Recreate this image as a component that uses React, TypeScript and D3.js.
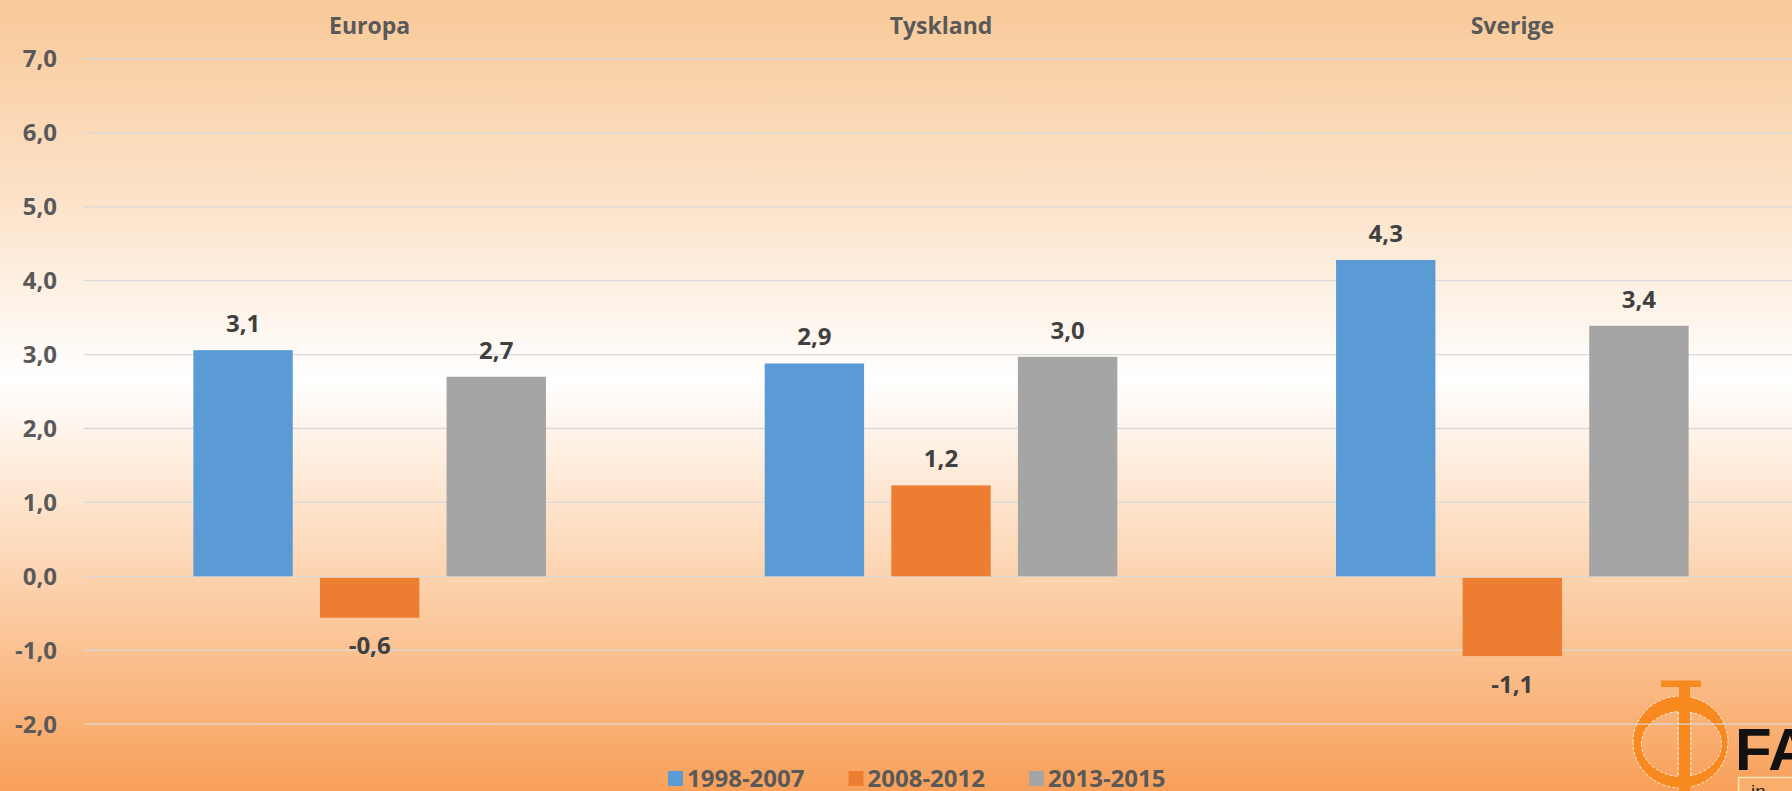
import * as d3 from 'd3';

// Growth by period, three regions
const REGIONS = ['Europa', 'Tyskland', 'Sverige'];
const PERIODS = ['1998-2007', '2008-2012', '2013-2015'];
const EUROPA = [3.06, -0.56, 2.7];
const TYSKLAND = [2.88, 1.23, 2.97];
const SVERIGE = [4.28, -1.08, 3.39];
const Y_TICKS = [-2, -1, 0, 1, 2, 3, 4, 5, 6, 7];

const COLORS = ['#5B9BD5', '#ED7D31', '#A5A5A5'];
const W = 1792;
const H = 791;
const FONT = '"Open Sans", sans-serif';

const fmt = (v: number) => d3.format('.1f')(v).replace('.', ',').replace('−', '-');

export default function App() {
  const rows = [EUROPA, TYSKLAND, SVERIGE].map((vals, i) => ({
    region: REGIONS[i],
    values: vals.map((v, j) => ({ period: PERIODS[j], value: v })),
  }));

  const x0 = d3.scaleBand<string>().domain(REGIONS).range([84, 1798]);
  const x1 = d3
    .scaleBand<string>()
    .domain(PERIODS)
    .range([0, x0.bandwidth()])
    .paddingInner(0.215)
    .paddingOuter(0.864);
  const y = d3.scaleLinear().domain([-2, 7]).range([724.1, 59.0]);

  const legendStep = 180.5;
  const legendX0 = 668;
  const logoFont = '"Liberation Sans", Arial, sans-serif';

  return (
    <>
      <style>{`body{margin:0;overflow:hidden}`}</style>
      <svg width={W} height={H} style={{ display: 'block' }} fontFamily={FONT}>
        <defs>
          <linearGradient id="bg" x1="0" y1="0" x2="0" y2="1">
            <stop offset="0%" stopColor="#F8C998" />
            <stop offset="25%" stopColor="#FCE2C8" />
            <stop offset="48%" stopColor="#FFFFFF" />
            <stop offset="72%" stopColor="#FCD5B2" />
            <stop offset="100%" stopColor="#F8A05A" />
          </linearGradient>
        </defs>
        <rect width={W} height={H} fill="url(#bg)" />

        {/* logo, partly cut off at the right edge */}
        <g>
          <path
            d="M1633,742 a47.5,46 0 1,0 95,0 a47.5,46 0 1,0 -95,0 Z M1641.5,744 a40,32.5 0 1,1 80,0 a40,32.5 0 1,1 -80,0 Z"
            fill="#F7891F"
            fillRule="evenodd"
            stroke="#FFF3E0"
            strokeWidth={1}
            strokeDasharray="3 2"
          />
          <rect x={1679} y={686} width={11} height={105} fill="#F7891F" />
          <line x1={1678} x2={1678} y1={712} y2={777} stroke="#FFF3E0" strokeWidth={1} strokeDasharray="3 2" />
          <line x1={1691} x2={1691} y1={712} y2={777} stroke="#FFF3E0" strokeWidth={1} strokeDasharray="3 2" />
          <rect x={1661} y={680.5} width={40} height={6.5} fill="#F7891F" />
          <text x={1735} y={770} fontFamily={logoFont} fontWeight={700} fontSize={60} fill="#111">
            FA
          </text>
          <rect x={1738.5} y={777.5} width={70} height={24} fill="#F9AE6C" stroke="#FFE7B8" strokeWidth={1.5} />
          <text x={1751} y={798} fontFamily={logoFont} fontSize={19} fill="#222">
            in
          </text>
        </g>

        {/* gridlines */}
        {Y_TICKS.map(t => (
          <line key={t} x1={84} x2={W} y1={y(t)} y2={y(t)} stroke="#D9D9D9" strokeWidth={1.3} />
        ))}

        {/* y labels */}
        {Y_TICKS.map(t => (
          <text
            key={t}
            x={57}
            y={y(t)}
            dy="0.35em"
            textAnchor="end"
            fontSize={24}
            fontWeight={700}
            fill="#595959"
          >
            {fmt(t)}
          </text>
        ))}

        {/* region titles */}
        {REGIONS.map(r => (
          <text
            key={r}
            x={(x0(r) ?? 0) + x0.bandwidth() / 2}
            y={34}
            textAnchor="middle"
            fontSize={23}
            fontWeight={700}
            fill="#595959"
          >
            {r}
          </text>
        ))}

        {/* bars + labels */}
        {rows.map(row => (
          <g key={row.region} transform={`translate(${x0(row.region)},0)`}>
            {row.values.map((d, j) => {
              const bx = x1(d.period) ?? 0;
              const top = d.value >= 0 ? y(d.value) : y(0) + 1.5;
              const bottom = d.value >= 0 ? y(0) : y(d.value);
              return (
                <g key={d.period}>
                  <rect x={bx} y={top} width={x1.bandwidth()} height={bottom - top} fill={COLORS[j]} />
                  <text
                    x={bx + x1.bandwidth() / 2}
                    y={d.value >= 0 ? y(d.value) - 18 : y(d.value) + 36.5}
                    textAnchor="middle"
                    fontSize={24}
                    fontWeight={700}
                    fill="#404040"
                  >
                    {fmt(d.value)}
                  </text>
                </g>
              );
            })}
          </g>
        ))}

        {/* legend */}
        {PERIODS.map((p, i) => {
          const lx = legendX0 + i * legendStep;
          return (
            <g key={p}>
              <rect x={lx} y={771} width={15} height={15} fill={COLORS[i]} />
              <text x={lx + 19} y={787} fontSize={24} fontWeight={700} fill="#595959">
                {p}
              </text>
            </g>
          );
        })}
      </svg>
    </>
  );
}
